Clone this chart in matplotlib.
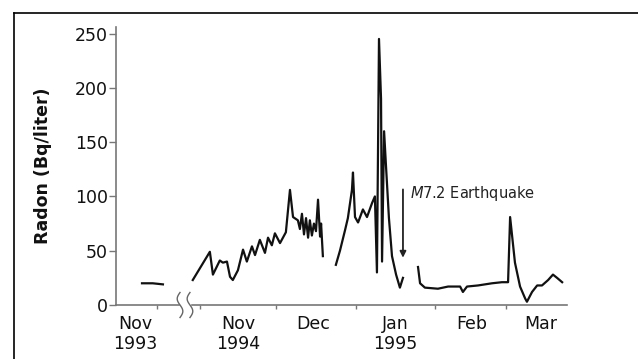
import numpy as np
import matplotlib
matplotlib.use('Agg')
import matplotlib.pyplot as plt
import matplotlib.transforms as mtransforms
from matplotlib.lines import Line2D

# x in days from 1 Nov 1994 (the 1993 piece sits left of the axis break)
x_1993 = [-22.7, -18.5, -14.5]
y_1993 = [20, 20, 19]

x_nov = [-2.8, 3.9, 5.1, 7.8, 9.0, 10.6, 11.8, 12.9, 14.9, 16.9, 18.4, 20.4, 21.6, 23.5, 25.5, 26.7, 28.2, 29.4, 31.4,
         33.7, 35.3, 36.5, 38.4, 39.2, 40.0, 40.8, 41.6, 42.4, 43.1, 43.9, 44.7, 45.5, 46.3, 47.1, 47.5, 48.2]
y_nov = [23, 49, 28, 41, 39, 40, 26, 23, 32, 51, 40, 54, 46, 60, 48, 62, 55, 66, 57,
         67, 106, 81, 78, 70, 84, 65, 80, 62, 78, 64, 75, 68, 97, 63, 75, 45]

x_dec = [53.3, 54.9, 56.9, 58.0, 59.6, 60.0, 60.8, 62.0, 63.9, 65.5, 67.5, 68.6, 69.4, 70.2, 71.0, 71.4,
         72.2, 72.9, 74.1, 75.3, 76.9, 78.4, 79.6]
y_dec = [37, 50, 69, 80, 106, 122, 81, 76, 88, 81, 94, 100, 30, 245, 190, 40,
         160, 130, 80, 45, 28, 16, 25]

x_jan = [85.5, 86.3, 88.2, 93.3, 97.3, 102.0, 103.1, 104.7, 109.0, 114.5, 118.4, 120.8, 121.6, 123.5,
         125.5, 127.5, 128.2, 130.2, 132.2, 134.1, 136.5, 138.4, 140.0, 142.0]
y_jan = [35, 20, 16, 15, 17, 17, 12, 17, 18, 20, 21, 21, 81, 39,
         17, 6, 3, 12, 18, 18, 23, 28, 25, 21]

month_edges = [-16.9, 0, 30, 61, 92, 120]
label_pos = [-25.5, 14.9, 44.3, 76.5, 106.7, 133.7]
label_txt = ['Nov\n1993', 'Nov\n1994', 'Dec', 'Jan\n1995', 'Feb', 'Mar']
yticks = [0, 50, 100, 150, 200, 250]

quake_day = 79.6
break_days = [-7.8, -3.9]

fig = plt.figure(figsize=(6.38, 3.59), dpi=100)
ax = fig.add_axes([0.1818, 0.1504, 0.7069, 0.7744])

line_kw = dict(color='#111111', lw=1.6, solid_joinstyle='round')
for xs, ys in [(x_1993, y_1993), (x_nov, y_nov), (x_dec, y_dec), (x_jan, y_jan)]:
    ax.plot(xs, ys, **line_kw)

ax.set_xlim(-32.9, 143.9)
ax.set_ylim(0, 256)

for s in ['top', 'right']:
    ax.spines[s].set_visible(False)
for s in ['left', 'bottom']:
    ax.spines[s].set_color('#777777')
    ax.spines[s].set_linewidth(1.2)

ax.set_yticks(yticks)
ax.tick_params(axis='y', length=5, width=1, color='#777777', pad=1,
               labelsize=12.5, labelcolor='#111111')
ax.set_xticks(month_edges)
ax.set_xticklabels([''] * len(month_edges))
ax.tick_params(axis='x', which='major', length=3, width=1, color='#777777')
ax.set_xticks(label_pos, minor=True)
ax.set_xticklabels(label_txt, minor=True, fontsize=12.5, color='#111111', linespacing=1.15)
ax.tick_params(axis='x', which='minor', length=0, pad=7)

ax.set_ylabel('Radon (Bq/liter)', fontsize=12.5, fontweight='bold', color='#111111', va='center')
ax.yaxis.set_label_coords(-0.162, 0.5)

# axis break marks
trans = mtransforms.blended_transform_factory(ax.transData, ax.transAxes)
ax.add_patch(plt.Rectangle((break_days[0], -0.01), break_days[1] - break_days[0], 0.02,
                           transform=trans, color='white', clip_on=False, zorder=3))
s = np.linspace(0, 1, 40)
for b in break_days:
    ax.plot(b + 1.1 * np.sin(2 * np.pi * s), -0.045 + 0.09 * s, transform=trans,
            color='#666666', lw=1.0, clip_on=False, zorder=4)

# earthquake arrow
ax.annotate('', xy=(quake_day, 41), xytext=(quake_day, 109),
            arrowprops=dict(arrowstyle='-|>', color='#222222', lw=1.3, mutation_scale=9))
ax.text(quake_day + 2.8, 103, r'$M$7.2 Earthquake', fontsize=10.5, color='#222222',
        ha='left', va='center')

# frame of the scanned page
fig.add_artist(Line2D([14 / 638, 1.0], [1 - 13 / 359] * 2, color='black', lw=1.2))
fig.add_artist(Line2D([14 / 638] * 2, [0.0, 1 - 13 / 359], color='black', lw=1.2))

fig.savefig('out.png', dpi=100)
